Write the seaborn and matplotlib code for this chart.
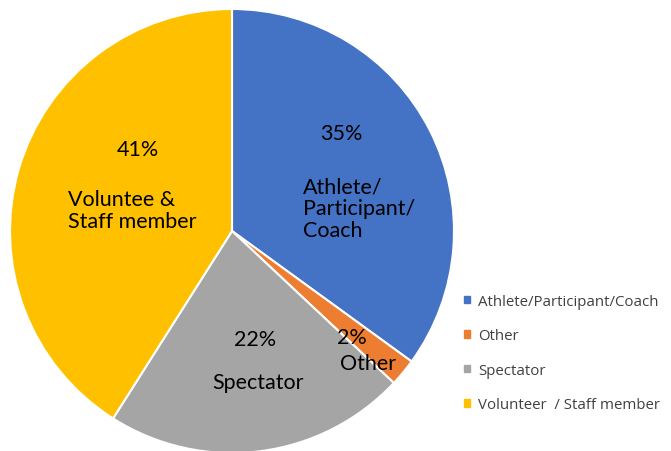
import matplotlib
matplotlib.use("Agg")
import matplotlib.pyplot as plt
import matplotlib.patches as mpatches
import seaborn as sns

categories = ["Athlete/Participant/Coach", "Other", "Spectator", "Volunteer  / Staff member"]
values = [35, 2, 22, 41]
pct_labels = ["35%", "2%", "22%", "41%"]
slice_names = ["Athlete/\nParticipant/\nCoach", "Other", "Spectator", "Voluntee &\nStaff member"]
colors = ["#4472C4", "#ED7D31", "#A5A5A5", "#FFC000"]

sns.set_theme(style="white")
plt.rcParams["font.family"] = ["Lato", "DejaVu Sans"]

fig = plt.figure(figsize=(6.71, 4.52), dpi=100)
ax = fig.add_axes([10 / 671, -2 / 452, 444 / 671, 444 / 452])
palette = sns.color_palette(colors)
wedges, _ = ax.pie(values, colors=palette, startangle=90, counterclock=False,
                   radius=1.0, wedgeprops=dict(edgecolor="white", linewidth=1.5))
ax.set_xlim(-1, 1)
ax.set_ylim(-1, 1)
ax.set_aspect("equal")
ax.axis("off")

fs = 15.5
# percentage labels
pct_pos = [(0.491, 0.441), (0.54, -0.477), (0.104, -0.486), (-0.423, 0.369)]
for (x, y), t in zip(pct_pos, pct_labels):
    ax.text(x, y, t, ha="center", va="center", fontsize=fs, color="black")
# name labels
name_pos = [(0.32, 0.104, "left"), (0.613, -0.595, "center"), (0.117, -0.680, "center"), (-0.739, 0.095, "left")]
for (x, y, ha), t in zip(name_pos, slice_names):
    ax.text(x, y, t, ha=ha, va="center", fontsize=fs, color="black", linespacing=1.1)

handles = [mpatches.Patch(color=c) for c in palette]
fig.legend(handles, categories, loc="center left", bbox_to_anchor=(464 / 671, 1 - 354 / 452),
           frameon=False, handlelength=0.4, handleheight=0.4,
           handletextpad=0.55, labelspacing=1.3, borderaxespad=0, borderpad=0, labelcolor="#404040",
           prop={"family": ["Open Sans", "DejaVu Sans"], "size": 10.8})

fig.savefig("out.png", dpi=100)
